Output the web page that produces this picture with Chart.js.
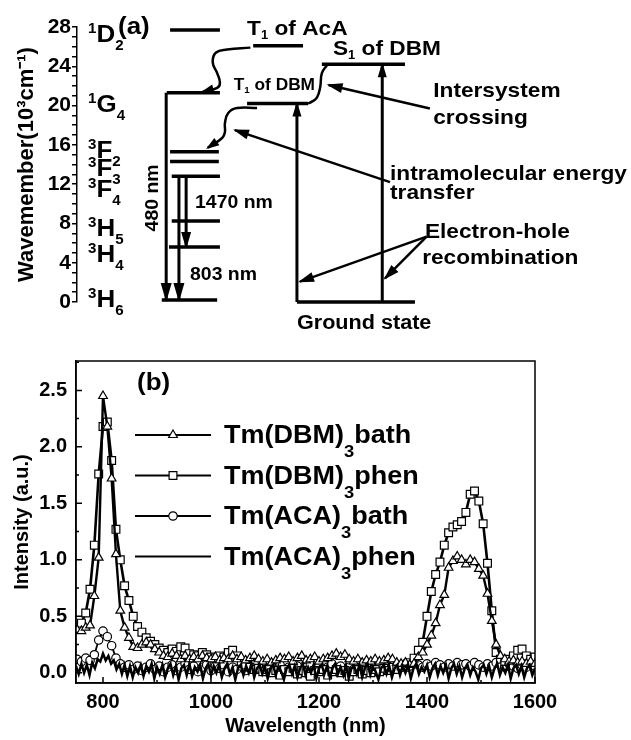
<!DOCTYPE html>
<html>
<head>
<meta charset="utf-8">
<script src="https://cdn.jsdelivr.net/npm/chart.js@4.4.1/dist/chart.umd.min.js"></script>
<style>
  body { margin: 0; background: #fff; }
  #wrap { width: 631px; height: 740px; }
  canvas { display: block; }
</style>
</head>
<body>
<div id="wrap">
  <canvas id="levels" width="631" height="340"></canvas>
  <canvas id="spectra" width="631" height="400"></canvas>
</div>
<script>
// ---------- (a) energy level scheme: energies in 10^3 cm-1, x in diagram units 0..100 ----------
const tmTerms  = ['1D2', '1G4', '3F2', '3F3', '3F4', '3H5', '3H4', '3H6'];
const tmEnergy = [27.7, 21.3, 15.3, 14.3, 12.8, 8.25, 5.6, 0.2];
const tmFrom   = [16.8, 16.2, 16.8, 16.8, 17.1, 17.1, 16.6, 15.3];
const tmTo     = [25.8, 25.8, 25.6, 25.6, 25.8, 25.8, 25.8, 25.3];
const tmLabelE = [27.4, 20.2, 15.5, 13.7, 11.6, 7.6, 5.0, 0.4];

const ligandNames  = ['T1 of AcA', 'S1 of DBM', 'T1 of DBM', 'Ground state'];
const ligandEnergy = [26.1, 24.2, 20.2, 0];
const ligandFrom   = [31.8, 44.2, 30.7, 39.7];
const ligandTo     = [40.8, 59.2, 41.7, 61.0];
const ligandLabelX = [30.7, 46.2, 28.3, 39.7];
const ligandLabelE = [28.0, 25.9, 22.2, -2.0];

// vertical transitions (arrow head at the "to" end)
const transNames  = ['480 nm', '803 nm', '1470 nm', '', ''];
const transX      = [16.1, 18.4, 19.7, 55.1, 39.7];
const transFromE  = [21.3, 12.8, 12.8, 0, 0];
const transToE    = [0.2, 0.2, 5.6, 24.2, 20.2];
const transLabelX = [13.5, 20.4, 21.3];
const transLabelE = [10.6, 2.95, 10.2];

// non-radiative (wavy) paths
const waveAcA = [[31.3, 25.9], [27.1, 25.7], [25.1, 25.4], [24.5, 24.4], [25.3, 23.3], [25.8, 22.3], [25.3, 21.8], [22.7, 21.4]];
const waveISC = [[45.1, 24.1], [44.2, 23.3], [43.9, 21.9], [43.3, 20.8], [42.4, 20.4], [41.7, 20.2]];
const waveET  = [[32.5, 19.75], [28.9, 19.75], [27.3, 19.25], [26.7, 18.2], [26.7, 17.3], [26.2, 16.7], [23.6, 15.7]];

// callout texts and their pointer arrows
const noteText  = ['Intersystem', 'crossing', 'intramolecular energy', 'transfer', 'Electron-hole', 'recombination'];
const noteX     = [64.3, 64.3, 56.5, 56.5, 62.8, 62.3];
const noteE     = [21.6, 18.9, 13.2, 11.3, 7.3, 4.6];
const pointerFrom = [[63.7, 19.7], [56.5, 12.2], [63.1, 6.65], [63.1, 6.65]];
const pointerTo   = [[45.4, 22.1], [28.5, 17.5], [40.25, 2.07], [55.6, 2.41]];

// ---------- (b) emission spectra ----------
const seriesNames = ['Tm(DBM)3bath', 'Tm(DBM)3phen', 'Tm(ACA)3bath', 'Tm(ACA)3phen'];

const wavelength = [
  752, 760, 768, 776, 784, 792, 800, 808, 816, 824,
  832, 840, 848, 856, 864, 872, 880, 888, 896, 904,
  912, 920, 928, 936, 944, 952, 960, 968, 976, 984,
  992, 1000, 1008, 1016, 1024, 1032, 1040, 1048, 1056, 1064,
  1072, 1080, 1088, 1096, 1104, 1112, 1120, 1128, 1136, 1144,
  1152, 1160, 1168, 1176, 1184, 1192, 1200, 1208, 1216, 1224,
  1232, 1240, 1248, 1256, 1264, 1272, 1280, 1288, 1296, 1304,
  1312, 1320, 1328, 1336, 1344, 1352, 1360, 1368, 1376, 1384,
  1392, 1400, 1408, 1416, 1424, 1432, 1440, 1448, 1456, 1464,
  1472, 1480, 1488, 1496, 1504, 1512, 1520, 1528, 1536, 1544,
  1552, 1560, 1568, 1576, 1584, 1592, 1600
];

const dbmBath = [
  0.38, 0.37, 0.40, 0.42, 0.68, 1.02, 2.45, 2.18, 1.72, 1.05,
  0.55, 0.40, 0.31, 0.23, 0.22, 0.25, 0.27, 0.25, 0.21, 0.18,
  0.15, 0.14, 0.17, 0.15, 0.12, 0.15, 0.12, 0.14, 0.12, 0.15,
  0.13, 0.12, 0.14, 0.11, 0.13, 0.12, 0.15, 0.12, 0.14, 0.11,
  0.13, 0.15, 0.12, 0.10, 0.12, 0.09, 0.11, 0.13, 0.12, 0.14,
  0.10, 0.13, 0.15, 0.11, 0.12, 0.14, 0.10, 0.12, 0.13, 0.15,
  0.17, 0.14, 0.16, 0.12, 0.10, 0.12, 0.09, 0.11, 0.10, 0.12,
  0.10, 0.11, 0.13, 0.12, 0.09, 0.08, 0.09, 0.07, 0.08, 0.14,
  0.18, 0.25, 0.33, 0.44, 0.60, 0.69, 0.93, 0.99, 1.03, 1.00,
  0.96, 1.00, 0.98, 0.92, 0.86, 0.70, 0.46, 0.25, 0.15, 0.12,
  0.10, 0.11, 0.09, 0.10, 0.08, 0.10, 0.08
];

const dbmPhen = [
  0.40, 0.44, 0.53, 0.74, 1.13, 1.76, 2.18, 2.22, 1.88, 1.27,
  1.00, 0.77, 0.64, 0.50, 0.41, 0.36, 0.31, 0.28, 0.25, 0.22,
  0.20, 0.18, 0.21, 0.19, 0.23, 0.22, 0.17, 0.16, 0.15, 0.18,
  0.16, 0.14, 0.13, 0.15, 0.14, 0.18, 0.20, 0.15, 0.10, 0.07,
  0.05, 0.03, 0.04, 0.01, 0.03, 0.00, 0.02, -0.02, 0.03, 0.01,
  0.04, -0.01, 0.02, 0.00, -0.03, 0.02, 0.01, 0.03, -0.02, 0.01,
  0.03, 0.00, 0.02, -0.03, 0.01, 0.03, -0.01, 0.02, 0.00, 0.03,
  0.01, 0.04, 0.02, 0.05, 0.03, 0.06, 0.05, 0.09, 0.13, 0.20,
  0.27, 0.50, 0.72, 0.87, 0.98, 1.13, 1.24, 1.29, 1.31, 1.34,
  1.42, 1.58, 1.61, 1.52, 1.32, 0.97, 0.55, 0.18, 0.12, 0.10,
  0.12, 0.15, 0.20, 0.21, 0.15, 0.12, 0.14
];

const acaBath = [
  0.12, 0.10, 0.13, 0.11, 0.16, 0.29, 0.37, 0.32, 0.24, 0.13,
  0.08, 0.05, 0.07, 0.03, 0.06, 0.02, 0.05, 0.08, 0.03, 0.06,
  0.01, 0.05, 0.07, 0.02, 0.05, 0.08, 0.03, 0.06, 0.01, 0.05,
  0.07, 0.02, 0.06, 0.04, 0.07, 0.01, 0.05, 0.03, 0.06, 0.02,
  0.05, 0.08, 0.03, 0.05, 0.01, 0.06, 0.04, 0.07, 0.02, 0.05,
  0.03, 0.06, 0.01, 0.05, 0.07, 0.03, 0.06, 0.02, 0.05, 0.08,
  0.04, 0.06, 0.02, 0.05, 0.03, 0.07, 0.04, 0.06, 0.02, 0.05,
  0.07, 0.03, 0.06, 0.04, 0.07, 0.05, 0.08, 0.06, 0.09, 0.07,
  0.05, 0.08, 0.06, 0.09, 0.07, 0.05, 0.08, 0.06, 0.09, 0.07,
  0.08, 0.06, 0.09, 0.07, 0.05, 0.08, 0.06, 0.09, 0.07, 0.05,
  0.08, 0.06, 0.04, 0.07, 0.05, 0.08, 0.06
];

// Tm(ACA)3phen is recorded on a finer grid
const wavelengthFine = [
  750, 755, 760, 765, 770, 775, 780, 785, 790, 795,
  800, 805, 810, 815, 820, 825, 830, 835, 840, 845,
  850, 855, 860, 865, 870, 875, 880, 885, 890, 895,
  900, 905, 910, 915, 920, 925, 930, 935, 940, 945,
  950, 955, 960, 965, 970, 975, 980, 985, 990, 995,
  1000, 1005, 1010, 1015, 1020, 1025, 1030, 1035, 1040, 1045,
  1050, 1055, 1060, 1065, 1070, 1075, 1080, 1085, 1090, 1095,
  1100, 1105, 1110, 1115, 1120, 1125, 1130, 1135, 1140, 1145,
  1150, 1155, 1160, 1165, 1170, 1175, 1180, 1185, 1190, 1195,
  1200, 1205, 1210, 1215, 1220, 1225, 1230, 1235, 1240, 1245,
  1250, 1255, 1260, 1265, 1270, 1275, 1280, 1285, 1290, 1295,
  1300, 1305, 1310, 1315, 1320, 1325, 1330, 1335, 1340, 1345,
  1350, 1355, 1360, 1365, 1370, 1375, 1380, 1385, 1390, 1395,
  1400, 1405, 1410, 1415, 1420, 1425, 1430, 1435, 1440, 1445,
  1450, 1455, 1460, 1465, 1470, 1475, 1480, 1485, 1490, 1495,
  1500, 1505, 1510, 1515, 1520, 1525, 1530, 1535, 1540, 1545,
  1550, 1555, 1560, 1565, 1570, 1575, 1580, 1585, 1590, 1595,
  1600
];

const acaPhen = [
  0.06, -0.01, 0.08, 0.00, 0.07, -0.02, 0.09, 0.04, 0.12, 0.10,
  0.17, 0.11, 0.15, 0.08, 0.11, 0.03, 0.08, -0.01, 0.07, -0.03,
  0.06, -0.04, 0.05, 0.00, 0.07, -0.03, 0.06, 0.01, 0.08, -0.05,
  0.05, -0.01, 0.07, -0.04, 0.04, 0.08, -0.02, 0.06, -0.06, 0.04,
  0.07, -0.02, 0.08, -0.03, 0.05, 0.01, 0.07, -0.05, 0.04, 0.08,
  -0.02, 0.06, 0.00, 0.07, -0.04, 0.04, 0.08, -0.01, 0.05, -0.06,
  0.04, 0.07, -0.02, 0.06, 0.00, 0.08, -0.04, 0.04, 0.07, -0.01,
  0.05, -0.05, 0.04, 0.07, -0.02, 0.06, 0.01, -0.06, 0.04, 0.07,
  -0.01, 0.06, -0.04, 0.04, 0.08, -0.02, 0.05, 0.00, 0.07, -0.05,
  0.04, 0.07, -0.01, 0.06, -0.04, 0.04, 0.08, -0.01, 0.05, -0.02,
  0.07, -0.05, 0.04, 0.06, -0.01, 0.07, -0.04, 0.04, 0.08, -0.02,
  0.05, 0.01, -0.06, 0.04, 0.07, -0.01, 0.06, -0.04, 0.04, 0.07,
  -0.02, 0.06, 0.00, 0.07, -0.05, 0.04, 0.08, -0.01, 0.05, 0.01,
  0.07, -0.04, 0.04, 0.08, -0.02, 0.06, 0.00, 0.07, -0.05, 0.04,
  0.08, -0.01, 0.06, -0.04, 0.04, 0.07, -0.02, 0.05, 0.01, -0.06,
  0.04, 0.07, -0.01, 0.06, -0.04, 0.04, 0.08, -0.02, 0.05, 0.00,
  0.07, -0.05, 0.04, 0.07, -0.01, 0.06, -0.04, 0.04, 0.07, -0.02,
  0.04
];

const FONT = '"Liberation Sans", Arial, Helvetica, sans-serif';
const SX = 1.08; // the printed lettering is a little wide

// parts: [[text, mode]] mode 0 normal, 1 subscript, -1 superscript; y is the cap centre
function drawParts(ctx, parts, x, y, size, o = {}) {
  const small = o.small || Math.round(size * 0.6);
  ctx.save();
  ctx.translate(x, y);
  if (o.rotate) ctx.rotate(o.rotate);
  ctx.scale(SX, 1);
  ctx.fillStyle = '#000';
  ctx.textAlign = 'left';
  ctx.textBaseline = 'alphabetic';
  let w = 0;
  const items = parts.map(p => {
    const f = 'bold ' + (p[1] ? small : size) + 'px ' + FONT;
    ctx.font = f;
    const it = { t: p[0], mode: p[1], f: f, x: w };
    w += ctx.measureText(p[0]).width;
    return it;
  });
  const x0 = o.align === 'center' ? -w / 2 : 0;
  const base = size * 0.36;
  items.forEach(it => {
    ctx.font = it.f;
    let dy = 0;
    if (it.mode > 0) dy = (o.subDy !== undefined ? o.subDy : size * 0.3);
    if (it.mode < 0) dy = (o.supDy !== undefined ? o.supDy : -size * 0.4);
    ctx.fillText(it.t, x0 + it.x, base + dy);
  });
  ctx.restore();
}

const termParts = s => [[s[0], -1], [s[1], 0], [s.slice(2), 1]];
function subParts(s) {
  const m = s.match(/^(\D+?)(\d)(.*)$/);
  return m ? [[m[1], 0], [m[2], 1], [m[3], 0]] : [[s, 0]];
}

// ---------- chart (a) ----------
function seg(pts, width, extra) {
  return Object.assign({
    data: pts.map(p => ({ x: p[0], y: p[1] })),
    borderColor: '#000',
    backgroundColor: '#000',
    borderWidth: width,
    pointRadius: 0,
    tension: 0,
    clip: false,
    borderCapStyle: 'butt'
  }, extra || {});
}

const levelSets = [];
tmEnergy.forEach((e, i) => levelSets.push(seg([[tmFrom[i], e], [tmTo[i], e]], 3.5)));
ligandEnergy.forEach((e, i) => levelSets.push(seg([[ligandFrom[i], e], [ligandTo[i], e]], 3.5)));
transX.forEach((x, i) => {
  const down = transToE[i] < transFromE[i];
  levelSets.push(seg([[x, transFromE[i]], [x, transToE[i]]], 3, { head: down ? (i === 2 ? [15, 5] : [17, 5.5]) : [13, 4.5] }));
});
levelSets.push(seg(waveAcA, 2.5, { tension: 0.45, head: [11, 4.5] }));
levelSets.push(seg(waveISC, 2.5, { tension: 0.45 }));
levelSets.push(seg(waveET, 2.5, { tension: 0.45, head: [11, 4.5] }));
pointerFrom.forEach((p, i) => levelSets.push(seg([p, pointerTo[i]], 2.5, { head: [14, 5] })));

const schemePlugin = {
  id: 'schemePlugin',
  afterDatasetsDraw(chart) {
    const ctx = chart.ctx;
    const xs = chart.scales.x, ys = chart.scales.y;
    const px = u => xs.getPixelForValue(u);
    const py = e => ys.getPixelForValue(e);

    // arrow heads
    chart.data.datasets.forEach((ds, i) => {
      if (!ds.head) return;
      const pts = chart.getDatasetMeta(i).data;
      const b = pts[pts.length - 1];
      let ax = pts[pts.length - 2].x, ay = pts[pts.length - 2].y;
      if (ds.tension && b.cp1x !== undefined && (b.cp1x !== b.x || b.cp1y !== b.y)) { ax = b.cp1x; ay = b.cp1y; }
      const ang = Math.atan2(b.y - ay, b.x - ax);
      ctx.save();
      ctx.translate(b.x, b.y);
      ctx.rotate(ang);
      ctx.beginPath();
      ctx.moveTo(2, 0);
      ctx.lineTo(-ds.head[0], -ds.head[1]);
      ctx.lineTo(-ds.head[0], ds.head[1]);
      ctx.closePath();
      ctx.fillStyle = '#000';
      ctx.fill();
      ctx.restore();
    });

    // term symbols of Tm3+
    tmTerms.forEach((t, i) => drawParts(ctx, termParts(t), px(2.0), py(tmLabelE[i]), 24, { small: 14, supDy: -9, subDy: 8 }));
    // ligand levels
    const ligSize = [21, 21, 16, 20];
    ligandNames.forEach((n, i) => drawParts(ctx, subParts(n), px(ligandLabelX[i]), py(ligandLabelE[i]), ligSize[i],
      { small: Math.round(ligSize[i] * 0.58), subDy: ligSize[i] * 0.2 }));
    // transition wavelengths
    drawParts(ctx, [[transNames[0], 0]], px(transLabelX[0]), py(transLabelE[0]), 18, { rotate: -Math.PI / 2, align: 'center' });
    drawParts(ctx, [[transNames[1], 0]], px(transLabelX[1]), py(transLabelE[1]), 18);
    drawParts(ctx, [[transNames[2], 0]], px(transLabelX[2]), py(transLabelE[2]), 18);
    // callouts
    noteText.forEach((t, i) => drawParts(ctx, [[t, 0]], px(noteX[i]), py(noteE[i]), 21));
    drawParts(ctx, [['(a)', 0]], px(7.4), py(28.2), 24);
  }
};

new Chart(document.getElementById('levels'), {
  type: 'line',
  data: { datasets: levelSets },
  options: {
    responsive: false,
    animation: false,
    events: [],
    layout: { padding: { left: 0, right: 0, top: 27, bottom: 38 } },
    plugins: { legend: { display: false }, tooltip: { enabled: false } },
    scales: {
      x: { type: 'linear', min: 0, max: 100, display: false },
      y: {
        type: 'linear', min: 0, max: 28,
        afterFit(s) { s.width = 77; },
        ticks: {
          stepSize: 1, autoSkip: false, padding: 1, color: '#000',
          font: { family: FONT, size: 21, weight: 'bold' },
          callback: v => (v % 4 === 0 ? String(v) : '')
        },
        grid: { display: true, drawOnChartArea: false, drawTicks: true, tickLength: 5, color: '#000', lineWidth: 1.5 },
        border: { display: true, color: '#000', width: 1.5 },
        title: {
          display: true, text: 'Wavemember(10³cm⁻¹)', color: '#000',
          font: { family: FONT, size: 22, weight: 'bold' }, padding: { top: 14, bottom: 0 }
        }
      }
    }
  },
  plugins: [schemePlugin]
});

// ---------- chart (b) ----------
function drawMarker(ctx, style, r, x, y) {
  ctx.beginPath();
  if (style === 'triangle') {
    ctx.moveTo(x, y - r);
    ctx.lineTo(x + 0.866 * r, y + 0.5 * r);
    ctx.lineTo(x - 0.866 * r, y + 0.5 * r);
    ctx.closePath();
  } else if (style === 'rect') {
    const s = r * Math.SQRT1_2;
    ctx.rect(x - s, y - s, 2 * s, 2 * s);
  } else if (style === 'circle') {
    ctx.arc(x, y, r, 0, Math.PI * 2);
  } else {
    return;
  }
  ctx.fillStyle = '#fff';
  ctx.fill();
  ctx.lineWidth = 1.2;
  ctx.strokeStyle = '#000';
  ctx.stroke();
}

const boxTicks = {
  id: 'boxTicks',
  afterDraw(chart) {
    const ctx = chart.ctx, a = chart.chartArea;
    ctx.save();
    ctx.strokeStyle = '#000';
    ctx.lineWidth = 1.5;
    ctx.strokeRect(a.left, a.top, a.right - a.left, a.bottom - a.top);
    ctx.beginPath();
    ['x', 'y'].forEach(id => {
      const sc = chart.scales[id];
      const vals = sc.ticks.map(t => t.value);
      const step = vals[1] - vals[0];
      const minors = vals.map(v => v + step / 2);
      minors.unshift(vals[0] - step / 2);
      const mark = (v, len) => {
        if (v < sc.min || v > sc.max) return;
        const p = sc.getPixelForValue(v);
        if (id === 'x') { ctx.moveTo(p, a.bottom); ctx.lineTo(p, a.bottom - len); }
        else { ctx.moveTo(a.left, p); ctx.lineTo(a.left + len, p); }
      };
      vals.forEach(v => mark(v, 6));
      minors.forEach(v => mark(v, 3));
    });
    ctx.stroke();
    ctx.restore();
  }
};

const spectraLegend = {
  id: 'spectraLegend',
  afterDraw(chart) {
    const ctx = chart.ctx;
    chart.data.datasets.forEach((ds, i) => {
      const y = 95 + i * 40.5;
      ctx.save();
      ctx.strokeStyle = '#000';
      ctx.lineWidth = Math.min(ds.borderWidth, 2.2);
      ctx.beginPath();
      ctx.moveTo(135, y);
      ctx.lineTo(211, y);
      ctx.stroke();
      if (ds.pointRadius > 0) drawMarker(ctx, ds.pointStyle, ds.pointRadius, 173, y);
      ctx.restore();
      drawParts(ctx, subParts(ds.label), 224, y - 1, 25, { small: 17, subDy: 14 });
    });
    drawParts(ctx, [['(b)', 0]], 137, 41, 24);
  }
};

const toXY = (xs, ys) => xs.map((x, i) => ({ x: x, y: ys[i] }));

new Chart(document.getElementById('spectra'), {
  type: 'line',
  data: {
    datasets: [
      { label: seriesNames[0], data: toXY(wavelength, dbmBath), borderColor: '#000', backgroundColor: '#fff', borderWidth: 2.4,
        pointStyle: 'triangle', pointRadius: 5, pointBackgroundColor: '#fff', pointBorderColor: '#000', pointBorderWidth: 1.2, order: 1 },
      { label: seriesNames[1], data: toXY(wavelength, dbmPhen), borderColor: '#000', backgroundColor: '#fff', borderWidth: 2.6,
        pointStyle: 'rect', pointRadius: 5.5, pointBackgroundColor: '#fff', pointBorderColor: '#000', pointBorderWidth: 1.2, order: 2 },
      { label: seriesNames[2], data: toXY(wavelength, acaBath), borderColor: '#000', backgroundColor: '#fff', borderWidth: 1.8,
        pointStyle: 'circle', pointRadius: 4.2, pointBackgroundColor: '#fff', pointBorderColor: '#000', pointBorderWidth: 1.2, order: 3 },
      { label: seriesNames[3], data: toXY(wavelengthFine, acaPhen), borderColor: '#000', backgroundColor: '#000', borderWidth: 2.5,
        pointRadius: 0, order: 0 }
    ]
  },
  options: {
    responsive: false,
    animation: false,
    events: [],
    layout: { padding: { left: 0, right: 96, top: 17, bottom: 1 } },
    plugins: { legend: { display: false }, tooltip: { enabled: false } },
    scales: {
      x: {
        type: 'linear', min: 750, max: 1600,
        afterFit(s) { s.height = 56; },
        ticks: { stepSize: 200, includeBounds: false, padding: 7, maxRotation: 0, color: '#000',
          font: { family: FONT, size: 20, weight: 'bold' }, callback: v => String(v) },
        grid: { display: false, drawTicks: false },
        border: { display: true, color: '#000', width: 1.5 },
        title: { display: true, text: 'Wavelength (nm)', color: '#000',
          font: { family: FONT, size: 20, weight: 'bold' }, padding: { top: 0, bottom: 1 } }
      },
      y: {
        type: 'linear', min: -0.09, max: 2.76,
        afterFit(s) { s.width = 76; },
        ticks: { stepSize: 0.5, includeBounds: false, padding: 9, color: '#000',
          font: { family: FONT, size: 20, weight: 'bold' }, callback: v => v.toFixed(1) },
        grid: { display: false, drawTicks: false },
        border: { display: true, color: '#000', width: 1.5 },
        title: { display: true, text: 'Intensity (a.u.)', color: '#000',
          font: { family: FONT, size: 20, weight: 'bold' }, padding: { top: 10, bottom: 0 } }
      }
    }
  },
  plugins: [boxTicks, spectraLegend]
});
</script>
</body>
</html>
